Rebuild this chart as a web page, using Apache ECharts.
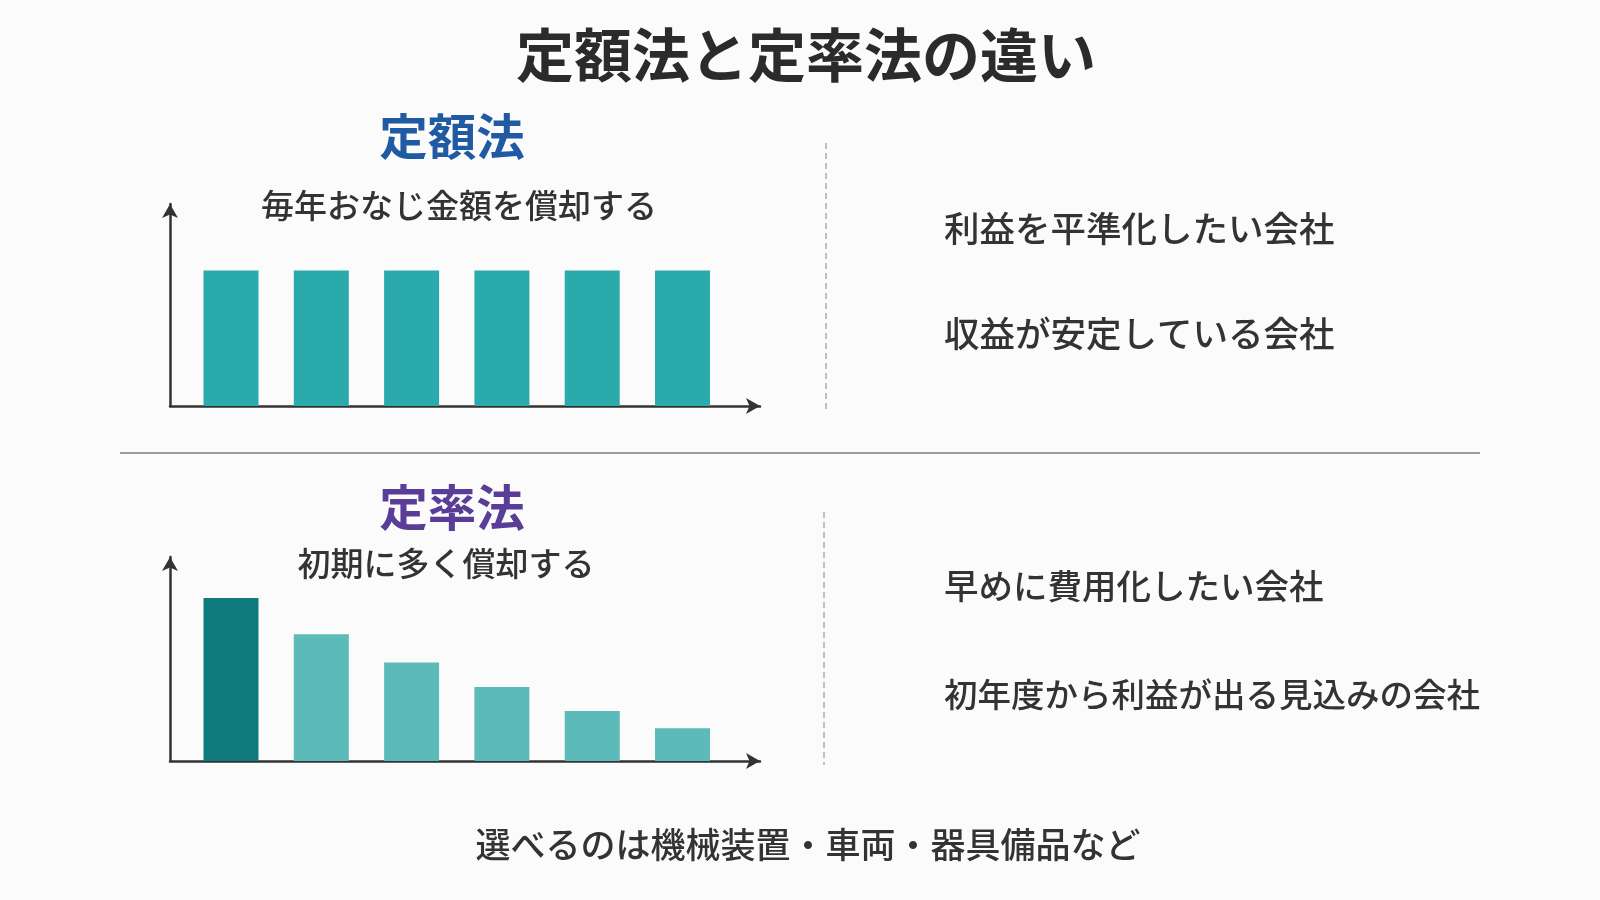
<!DOCTYPE html>
<html>
<head>
<meta charset="utf-8">
<script src="https://cdn.jsdelivr.net/npm/echarts@6/dist/echarts.min.js"></script>
<style>
  html, body { margin: 0; padding: 0; background: #fbfbfb; }
  #chart { width: 1600px; height: 900px; }
</style>
</head>
<body>
<div id="chart"></div>
<script>
// data
const years = [1, 2, 3, 4, 5, 6];
const straightLine = [100, 100, 100, 100, 100, 100];   // 定額法: same every year
const decliningBalance = [119, 92.5, 72, 54, 36.5, 24]; // 定率法: front-loaded
const decliningColors = ['#0e7a7b', '#5cbab8', '#5cbab8', '#5cbab8', '#5cbab8', '#5cbab8'];

const mainTitle = '定額法と定率法の違い';
const topHead = '定額法';
const topSub = '毎年おなじ金額を償却する';
const topPoints = ['利益を平準化したい会社', '収益が安定している会社'];
const bottomHead = '定率法';
const bottomSub = '初期に多く償却する';
const bottomPoints = ['早めに費用化したい会社', '初年度から利益が出る見込みの会社'];
const footNote = '選べるのは機械装置・車両・器具備品など';

const FONT = '"Noto Sans CJK JP", "Noto Sans", sans-serif';
const INK = '#333333';

window.onload = function () {
    const chart = echarts.init(document.getElementById('chart'));

    function axisX(gridIndex) {
        return {
            type: 'value',
            gridIndex: gridIndex,
            min: 0.3245,
            max: 6.858,
            axisLabel: { show: false },
            axisTick: { show: false },
            splitLine: { show: false },
            axisLine: {
                show: true,
                onZero: false,
                symbol: ['none', 'arrow'],
                symbolSize: [12, 14],
                lineStyle: { color: INK, width: 2.5 }
            }
        };
    }

    function axisY(gridIndex) {
        return {
            type: 'value',
            gridIndex: gridIndex,
            min: 0,
            max: 149,
            axisLabel: { show: false },
            axisTick: { show: false },
            splitLine: { show: false },
            axisLine: {
                show: true,
                onZero: false,
                symbol: ['none', 'arrow'],
                symbolSize: [12, 14],
                lineStyle: { color: INK, width: 2.5 }
            }
        };
    }

    function text(str, x, y, size, weight, color, align) {
        return {
            type: 'text',
            x: x,
            y: y,
            style: {
                text: str,
                fontSize: size,
                fontWeight: weight,
                fontFamily: FONT,
                fill: color,
                align: align,
                verticalAlign: 'middle'
            }
        };
    }

    const option = {
        backgroundColor: '#fbfbfb',
        animation: false,
        grid: [
            { left: 170, width: 590, top: 204, height: 202 },
            { left: 170, width: 590, top: 557, height: 204 }
        ],
        xAxis: [axisX(0), axisX(1)],
        yAxis: [axisY(0), axisY(1)],
        series: [
            {
                type: 'bar',
                xAxisIndex: 0,
                yAxisIndex: 0,
                barWidth: 55,
                itemStyle: { color: '#2baaac' },
                data: years.map((y, i) => [y, straightLine[i]])
            },
            {
                type: 'bar',
                xAxisIndex: 1,
                yAxisIndex: 1,
                barWidth: 55,
                data: years.map((y, i) => ({
                    value: [y, decliningBalance[i]],
                    itemStyle: { color: decliningColors[i] }
                }))
            }
        ],
        graphic: [
            text(mainTitle, 806, 55, 58, 'bold', '#2b2b2b', 'center'),
            text(topHead, 452, 137, 48.5, 'bold', '#1f5aa3', 'center'),
            text(topSub, 459, 205, 33, 500, INK, 'center'),
            text(topPoints[0], 944, 229, 35.5, 500, INK, 'left'),
            text(topPoints[1], 944, 334, 35.5, 500, INK, 'left'),
            text(bottomHead, 452, 508, 48.5, 'bold', '#5a3d96', 'center'),
            text(bottomSub, 446, 563, 33, 500, INK, 'center'),
            text(bottomPoints[0], 944, 586, 34.5, 500, INK, 'left'),
            text(bottomPoints[1], 944, 694, 33.5, 500, INK, 'left'),
            text(footNote, 808, 845, 35, 500, INK, 'center'),
            {
                type: 'line',
                shape: { x1: 826, y1: 143, x2: 826, y2: 410 },
                style: { stroke: '#9a9a9a', lineWidth: 1.2, lineDash: [6, 4] }
            },
            {
                type: 'line',
                shape: { x1: 824, y1: 512, x2: 824, y2: 765 },
                style: { stroke: '#9a9a9a', lineWidth: 1.2, lineDash: [6, 4] }
            },
            {
                type: 'line',
                shape: { x1: 120, y1: 453, x2: 1480, y2: 453 },
                style: { stroke: '#7a7a7a', lineWidth: 1.5 }
            }
        ]
    };

    chart.setOption(option);

    window.addEventListener('resize', function () {
        chart.resize();
    });
};
</script>
</body>
</html>
